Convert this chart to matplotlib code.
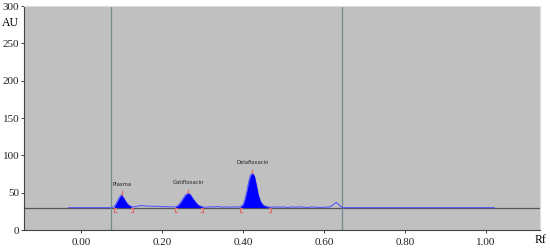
import matplotlib.pyplot as plt
import numpy as np

# trace (Rf, AU)
rf = [-0.03, 0.075, 0.082, 0.087, 0.092, 0.096, 0.100, 0.104, 0.108, 0.113, 0.118, 0.124, 0.130,
      0.14, 0.15, 0.16, 0.17, 0.18, 0.19, 0.20, 0.21, 0.22, 0.233,
      0.240, 0.247, 0.253, 0.258, 0.263, 0.266, 0.270, 0.276, 0.283, 0.290, 0.300,
      0.31, 0.32, 0.33, 0.34, 0.35, 0.36, 0.37, 0.38, 0.393,
      0.400, 0.405, 0.410, 0.414, 0.418, 0.423, 0.428, 0.432, 0.437, 0.443, 0.450, 0.460, 0.468,
      0.48, 0.49, 0.50, 0.51, 0.52, 0.53, 0.54, 0.55, 0.56, 0.57, 0.58, 0.59, 0.60, 0.615, 0.630,
      0.644, 1.02]
au = [30, 30, 31.5, 36, 41, 45, 47, 44, 40, 36, 33, 31.5, 31,
      32, 33, 32, 32, 31.5, 32, 31, 31.5, 31, 31,
      33, 38, 43, 47, 49, 49, 47, 42, 37, 33, 31,
      30.5, 31, 31, 31.5, 30.5, 31, 30.5, 31, 31,
      34, 42, 54, 65, 73, 76, 72, 62, 48, 38, 33, 31, 30.5,
      31, 30.5, 31, 30, 31, 30.5, 31, 30.5, 30, 31, 30.5, 30, 30.5, 31, 37,
      30, 30]

baseline = 30
peak_names = ['Plasma', 'Gatifloxacin', 'Delafloxacin']
peak_rf = [0.100, 0.265, 0.423]
peak_top = [47, 49, 76]
peak_start = [0.082, 0.233, 0.393]
peak_end = [0.128, 0.300, 0.468]
label_y = [58, 60, 87]

front_lines = [0.074, 0.644]

plt.rcParams['font.family'] = ['Liberation Serif']
fig = plt.figure(figsize=(5.5, 2.48), dpi=100)
ax = fig.add_axes([24 / 550, 18 / 248, 516 / 550, 224 / 248])
ax.set_facecolor('#c0c0c0')

ax.axhline(baseline, color='#555555', lw=0.9, zorder=1)
for x in front_lines:
    ax.axvline(x, color='#6e8c8c', lw=0.9, zorder=2)

rf_a = np.array(rf)
au_a = np.array(au)
ax.plot(rf_a, au_a, color='#5a5aff', lw=0.8, zorder=3)
for s, e in zip(peak_start, peak_end):
    m = (rf_a >= s) & (rf_a <= e)
    ax.fill_between(rf_a[m], baseline, au_a[m], color='#0000ff', lw=0, zorder=4)

red = '#e06666'
for name, x, top, s, e, ly in zip(peak_names, peak_rf, peak_top, peak_start, peak_end, label_y):
    ax.plot([x, x], [top, top + 5], color=red, lw=0.9, zorder=5)
    ax.plot([s + 0.004, s, s, s + 0.004], [baseline - 0.5, baseline - 0.5, baseline - 6, baseline - 6], color=red, lw=0.8, zorder=5)
    ax.plot([e - 0.004, e, e, e - 0.004], [baseline - 0.5, baseline - 0.5, baseline - 6, baseline - 6], color=red, lw=0.8, zorder=5)
    ax.text(x, ly, name, fontsize=3.8, family='DejaVu Sans', ha='center', va='bottom', color='#222222')

ax.set_xlim(-0.141, 1.133)
ax.set_ylim(0, 300)
ax.set_xticks([0.0, 0.2, 0.4, 0.6, 0.8, 1.0])
ax.set_xticklabels(['0.00', '0.20', '0.40', '0.60', '0.80', '1.00'])
ax.set_yticks(range(0, 301, 50))
ax.tick_params(labelsize=8, length=2, width=0.6, pad=1.5, colors='#222222')
ax.tick_params(axis='x', pad=4)
for side in ['top', 'right']:
    ax.spines[side].set_color('#dddddd')
for side in ['left', 'bottom']:
    ax.spines[side].set_color('#444444')
    ax.spines[side].set_linewidth(0.8)

fig.text(10 / 550, 1 - 23 / 248, 'AU', fontsize=8.5, ha='center', va='center')
fig.text(540 / 550, 1 - 240 / 248, 'Rf', fontsize=8.5, ha='center', va='center')

fig.savefig('out.png', dpi=100)
